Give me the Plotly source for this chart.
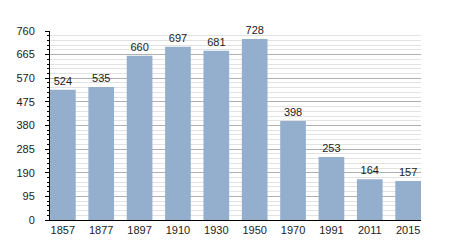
import plotly.graph_objects as go

years = ["1857", "1877", "1897", "1910", "1930", "1950", "1970", "1991", "2011", "2015"]
population = [524, 535, 660, 697, 681, 728, 398, 253, 164, 157]
y_ticks = [0, 95, 190, 285, 380, 475, 570, 665, 760]

gap = 0.33

fig = go.Figure(go.Bar(
    x=years, y=population,
    text=[str(v) for v in population],
    textposition="outside",
    cliponaxis=False,
    textfont=dict(size=11, color="#222", family="Liberation Sans, Arial"),
    marker=dict(color="#93afcd", line=dict(width=0)),
))

fig.update_layout(
    width=450, height=250,
    margin=dict(l=50, r=29, t=31, b=30),
    paper_bgcolor="white", plot_bgcolor="white",
    bargap=gap,
    showlegend=False,
    font=dict(family="Liberation Sans, Arial", size=11, color="#222"),
)
fig.update_xaxes(
    type="category",
    range=[-0.5 + gap / 2, len(years) - 0.5 - gap / 2],
    showline=True, linecolor="black", linewidth=1,
    ticks="", showgrid=False,
    tickfont=dict(size=11),
)
fig.update_yaxes(
    range=[0, 760],
    tickvals=y_ticks,
    showline=True, linecolor="black", linewidth=1,
    ticks="outside", ticklen=4, tickcolor="black",
    ticklabelstandoff=8,
    showgrid=True, gridcolor="#b0b0b0", gridwidth=1,
    minor=dict(dtick=19, tick0=0, showgrid=True, gridcolor="#e2e2e2",
               ticks="outside", ticklen=2, tickcolor="black"),
    zeroline=False,
    tickfont=dict(size=11),
)

fig.write_html("out.html")
